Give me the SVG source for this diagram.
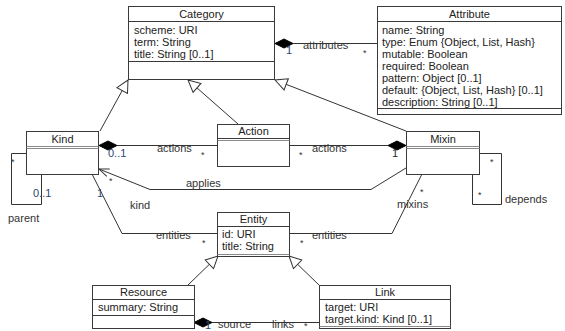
<svg xmlns="http://www.w3.org/2000/svg" width="565" height="331" viewBox="0 0 565 331">
<defs>
<style>
.box{fill:#fff;stroke:#3a3a3a;stroke-width:1}
.sep{stroke:#3a3a3a;stroke-width:1}
.dbl{stroke:#8a8a8a;stroke-width:1}
.ln{fill:none;stroke:#333;stroke-width:1}
.dia{fill:#000;stroke:#000;stroke-width:1}
text{font-family:"Liberation Sans",Arial,sans-serif;font-size:11px;fill:#222}
.t{text-anchor:middle}
.lbl{fill:#333}
.m{fill:#2b4570}
.st{font-size:9px}
</style>
<marker id="gen" markerUnits="userSpaceOnUse" markerWidth="14" markerHeight="14" refX="12" refY="6" orient="auto" viewBox="-1 -1 14 14">
<path d="M0,0 L12,6 L0,12 z" fill="#fff" stroke="#333" stroke-width="1"/>
</marker>
<marker id="open" markerUnits="userSpaceOnUse" markerWidth="12" markerHeight="10" refX="10" refY="4" orient="auto" viewBox="-1 -1 12 10">
<path d="M0,0 L10,4 L0,8" fill="none" stroke="#333" stroke-width="1"/>
</marker>
</defs>
<rect width="565" height="331" fill="#fff"/>

<g id="connectors">
<!-- generalizations to Category -->
<line class="ln" x1="100" y1="131" x2="128" y2="80" marker-end="url(#gen)"/>
<line class="ln" x1="238" y1="124" x2="188" y2="80" marker-end="url(#gen)"/>
<line class="ln" x1="406" y1="131" x2="275" y2="80" marker-end="url(#gen)"/>
<!-- generalizations to Entity -->
<line class="ln" x1="188" y1="285" x2="218" y2="256" marker-end="url(#gen)"/>
<line class="ln" x1="319" y1="285" x2="289" y2="256" marker-end="url(#gen)"/>
<!-- attributes -->
<line class="ln" x1="275" y1="43.5" x2="377" y2="43.5"/>
<polygon class="dia" points="275,43.5 284,39 293,43.5 284,48"/>
<text class="m" x="286" y="54">1</text>
<text class="lbl" x="303" y="49">attributes</text>
<text class="lbl st" x="363" y="56">*</text>
<!-- Kind - Action actions -->
<line class="ln" x1="99" y1="145.5" x2="217" y2="145.5"/>
<polygon class="dia" points="99,145.5 108,141 117,145.5 108,150"/>
<text class="m" x="108" y="157">0..1</text>
<text class="lbl" x="157" y="152">actions</text>
<text class="lbl st" x="201" y="158">*</text>
<!-- Action - Mixin actions -->
<line class="ln" x1="289" y1="145.5" x2="406" y2="145.5"/>
<polygon class="dia" points="406,145.5 397,141 388,145.5 397,150"/>
<text class="lbl st" x="299" y="158">*</text>
<text class="lbl" x="312" y="152">actions</text>
<text x="392" y="157" fill="#4a3f20">1</text>
<!-- applies -->
<polyline class="ln" points="406,168 371,189.5 150,189.5 99,169" marker-end="url(#open)"/>
<text class="lbl st" x="109" y="184">*</text>
<text class="lbl" x="186" y="187">applies</text>
<!-- parent -->
<polyline class="ln" points="26,153.5 11.5,153.5 11.5,204.5 41.5,204.5 41.5,174"/>
<text class="lbl st" x="11" y="165">*</text>
<text class="m" x="33" y="197">0..1</text>
<text class="lbl" x="8" y="222">parent</text>
<!-- kind / entities -->
<polyline class="ln" points="92,174 122,233.5 217,233.5"/>
<text class="m" x="97" y="197">1</text>
<text class="lbl" x="130" y="209">kind</text>
<text class="lbl" x="156" y="239">entities</text>
<text class="lbl st" x="202" y="246">*</text>
<!-- entities / mixins -->
<polyline class="ln" points="289,233.5 392,233.5 422,174"/>
<text class="lbl st" x="300" y="246">*</text>
<text class="lbl" x="312" y="239">entities</text>
<text class="lbl st" x="420" y="195">*</text>
<text class="lbl" x="397" y="208">mixins</text>
<!-- depends -->
<polyline class="ln" points="479,153.5 501.5,153.5 501.5,204.5 472.5,204.5 472.5,174"/>
<text class="lbl st" x="490" y="165">*</text>
<text class="lbl st" x="478" y="198">*</text>
<text class="lbl" x="505" y="203">depends</text>
<!-- source / links -->
<line class="ln" x1="194" y1="322.5" x2="319" y2="322.5"/>
<polygon class="dia" points="194,322.5 203,318 212,322.5 203,327"/>
<text class="m" x="205" y="328.5">1</text>
<text class="lbl" x="218" y="328">source</text>
<text class="lbl" x="272" y="328">links</text>
<text class="lbl st" x="304" y="329">*</text>
</g>

<g id="Category">
<rect class="box" x="128.5" y="6.5" width="146" height="73"/>
<line class="sep" x1="128.5" y1="21.5" x2="274.5" y2="21.5"/>
<line class="sep" x1="128.5" y1="61.5" x2="274.5" y2="61.5"/>
<text class="t" x="201.5" y="18">Category</text>
<text x="134" y="34">scheme: URI</text>
<text x="134" y="46">term: String</text>
<text x="134" y="58">title: String [0..1]</text>
</g>

<g id="Attribute">
<rect class="box" x="377.5" y="6.5" width="184" height="108"/>
<line class="sep" x1="377.5" y1="21.5" x2="561.5" y2="21.5"/>
<line class="sep" x1="377.5" y1="108.5" x2="561.5" y2="108.5"/>
<text class="t" x="469.5" y="18">Attribute</text>
<text x="382" y="34">name: String</text>
<text x="382" y="46">type: Enum {Object, List, Hash}</text>
<text x="382" y="58">mutable: Boolean</text>
<text x="382" y="70">required: Boolean</text>
<text x="382" y="82">pattern: Object [0..1]</text>
<text x="382" y="94">default: {Object, List, Hash} [0..1]</text>
<text x="382" y="106">description: String [0..1]</text>
</g>

<g id="Kind">
<rect class="box" x="26.5" y="131.5" width="72" height="43"/>
<line class="dbl" x1="26.5" y1="146.5" x2="98.5" y2="146.5"/>
<line class="dbl" x1="26.5" y1="148.5" x2="98.5" y2="148.5"/>
<text class="t" x="62.5" y="143">Kind</text>
</g>

<g id="Action">
<rect class="box" x="217.5" y="124.5" width="72" height="42"/>
<line class="sep" x1="217.5" y1="138.5" x2="289.5" y2="138.5"/>
<line class="dbl" x1="217.5" y1="140.5" x2="289.5" y2="140.5"/>
<text class="t" x="253.5" y="135">Action</text>
</g>

<g id="Mixin">
<rect class="box" x="406.5" y="131.5" width="73" height="43"/>
<line class="dbl" x1="406.5" y1="146.5" x2="479.5" y2="146.5"/>
<line class="dbl" x1="406.5" y1="148.5" x2="479.5" y2="148.5"/>
<text class="t" x="443" y="143">Mixin</text>
</g>

<g id="Entity">
<rect class="box" x="217.5" y="212.5" width="72" height="44"/>
<line class="sep" x1="217.5" y1="226.5" x2="289.5" y2="226.5"/>
<line class="dbl" x1="217.5" y1="254.5" x2="289.5" y2="254.5"/>
<text class="t" x="253.5" y="223">Entity</text>
<text x="222" y="238">id: URI</text>
<text x="222" y="250">title: String</text>
</g>

<g id="Resource">
<rect class="box" x="92.5" y="285.5" width="102" height="43"/>
<line class="sep" x1="92.5" y1="299.5" x2="194.5" y2="299.5"/>
<line class="sep" x1="92.5" y1="315.5" x2="194.5" y2="315.5"/>
<text class="t" x="143.5" y="296">Resource</text>
<text x="98" y="311">summary: String</text>
</g>

<g id="Link">
<rect class="box" x="319.5" y="285.5" width="131" height="43"/>
<line class="sep" x1="319.5" y1="299.5" x2="450.5" y2="299.5"/>
<line class="dbl" x1="319.5" y1="326.5" x2="450.5" y2="326.5"/>
<text class="t" x="385" y="296">Link</text>
<text x="325" y="311">target: URI</text>
<text x="325" y="323">target.kind: Kind [0..1]</text>
</g>
</svg>
